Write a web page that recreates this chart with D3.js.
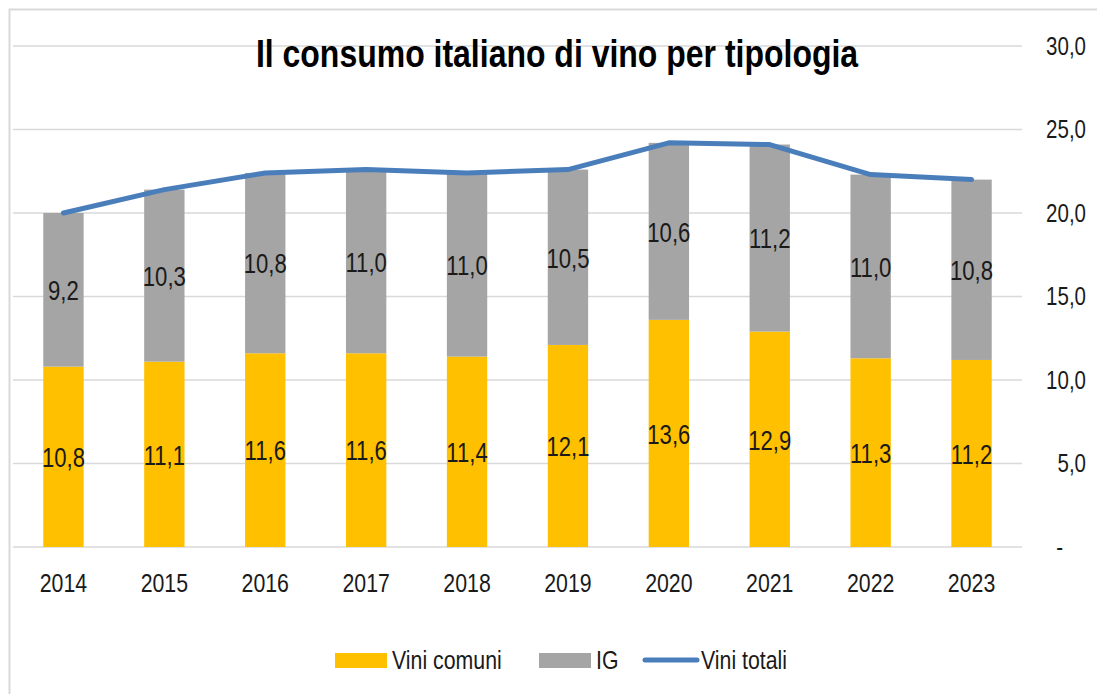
<!DOCTYPE html>
<html>
<head>
<meta charset="utf-8">
<style>
  body { margin: 0; background: #fff; }
  svg text { font-family: "Liberation Sans", Arial, sans-serif; fill: #1a1a1a; }
  .grid line { stroke: #d9d9d9; stroke-width: 1.6; }
  .title { font-weight: bold; font-size: 39px; fill: #000; }
</style>
</head>
<body>
<svg class="chart"></svg>
<script src="https://d3js.org/d3.v7.min.js"></script>
<script>
// data
const years = ["2014", "2015", "2016", "2017", "2018", "2019", "2020", "2021", "2022", "2023"];
const viniComuni = [10.8, 11.1, 11.6, 11.6, 11.4, 12.1, 13.6, 12.9, 11.3, 11.2];
const ig = [9.2, 10.3, 10.8, 11.0, 11.0, 10.5, 10.6, 11.2, 11.0, 10.8];
const viniTotali = [20.0, 21.4, 22.4, 22.6, 22.4, 22.6, 24.2, 24.1, 22.3, 22.0];
const yTicks = [0, 5, 10, 15, 20, 25, 30];

const width = 1097, height = 694;
const plot = { left: 13, right: 1022, top: 46, bottom: 547 };
const narrowScale = 0.82; // no Arial Narrow available, squeeze Liberation Sans

const svg = d3.select(".chart").attr("width", width).attr("height", height);

// squeeze text horizontally around its own anchor point
function narrow(sel) {
  sel.each(function() {
    const t = d3.select(this);
    const tx = +t.attr("x") || 0, ty = +t.attr("y") || 0;
    t.attr("x", 0).attr("y", 0)
      .attr("transform", "translate(" + tx + "," + ty + ") scale(" + narrowScale + ",1)");
  });
}

// outer frame (cropped on right/bottom like the original)
svg.append("rect")
  .attr("x", 9.5).attr("y", 9.5)
  .attr("width", 1200).attr("height", 800)
  .attr("fill", "none").attr("stroke", "#d9d9d9").attr("stroke-width", 2);

const x = d3.scaleBand().domain(years).range([plot.left, plot.right]).paddingInner(0.6).paddingOuter(0.3);
const y = d3.scaleLinear().domain([0, 30]).range([plot.bottom, plot.top]);

const fmt = v => v.toFixed(1).replace(".", ",");

// gridlines
svg.append("g").attr("class", "grid")
  .selectAll("line").data(yTicks).join("line")
  .attr("x1", plot.left).attr("x2", plot.right)
  .attr("y1", d => y(d)).attr("y2", d => y(d));

// right axis labels
const yAxis = d3.axisRight(y).tickValues(yTicks).tickSize(0).tickPadding(0)
  .tickFormat(d => d === 0 ? "-" : fmt(d));
const gy = svg.append("g").attr("transform", "translate(1086,0)").call(yAxis);
gy.select(".domain").remove();
gy.selectAll("text")
  .attr("text-anchor", "end")
  .attr("x", d => d === 0 ? -23 : 0)
  .style("font-size", "25px").style("font-family", null)
  .call(narrow);

// title
svg.append("text").attr("class", "title")
  .attr("x", 557).attr("y", 67).attr("text-anchor", "middle")
  .text("Il consumo italiano di vino per tipologia")
  .call(narrow);

// stacked bars
const rows = years.map((yr, i) => ({ year: yr, a: viniComuni[i], b: ig[i] }));
const stack = d3.stack().keys(["a", "b"])(rows);
const colors = { a: "#ffc000", b: "#a5a5a5" };

stack.forEach(layer => {
  const g = svg.append("g");
  g.selectAll("rect").data(layer).join("rect")
    .attr("x", d => x(d.data.year))
    .attr("width", x.bandwidth())
    .attr("y", d => y(d[1]))
    .attr("height", d => y(d[0]) - y(d[1]))
    .attr("fill", colors[layer.key]);
  g.selectAll("text").data(layer).join("text")
    .attr("x", d => x(d.data.year) + x.bandwidth() / 2)
    .attr("y", d => y((d[0] + d[1]) / 2))
    .attr("dy", "0.38em")
    .attr("text-anchor", "middle")
    .style("font-size", "27px")
    .text(d => fmt(d[1] - d[0]))
    .call(narrow);
});

// total line
const line = d3.line()
  .x((d, i) => x(years[i]) + x.bandwidth() / 2)
  .y(d => y(d));
svg.append("path")
  .datum(viniTotali)
  .attr("d", line)
  .attr("fill", "none")
  .attr("stroke", "#4a7ebb")
  .attr("stroke-width", 5)
  .attr("stroke-linecap", "round")
  .attr("stroke-linejoin", "round");

// x axis labels
const xAxis = d3.axisBottom(x).tickSize(0).tickPadding(0);
const gx = svg.append("g").attr("transform", "translate(0,592)").call(xAxis);
gx.select(".domain").remove();
gx.selectAll("text").attr("dy", 0).style("font-size", "26px").style("font-family", null)
  .call(narrow);

// legend
const legend = svg.append("g").attr("transform", "translate(0,660)");
const items = [
  { label: "Vini comuni", type: "rect", color: "#ffc000", x: 335 },
  { label: "IG", type: "rect", color: "#a5a5a5", x: 539 },
  { label: "Vini totali", type: "line", color: "#4a7ebb", x: 643 }
];
items.forEach(it => {
  if (it.type === "rect") {
    legend.append("rect").attr("x", it.x).attr("y", -7).attr("width", 52).attr("height", 15).attr("fill", it.color);
  } else {
    legend.append("line").attr("x1", it.x + 2).attr("x2", it.x + 54).attr("y1", 0).attr("y2", 0)
      .attr("stroke", it.color).attr("stroke-width", 5).attr("stroke-linecap", "round");
  }
  legend.append("text").attr("x", it.x + (it.type === "rect" ? 57 : 58)).attr("y", 9)
    .style("font-size", "26px").text(it.label)
    .call(narrow);
});
</script>
</body>
</html>
